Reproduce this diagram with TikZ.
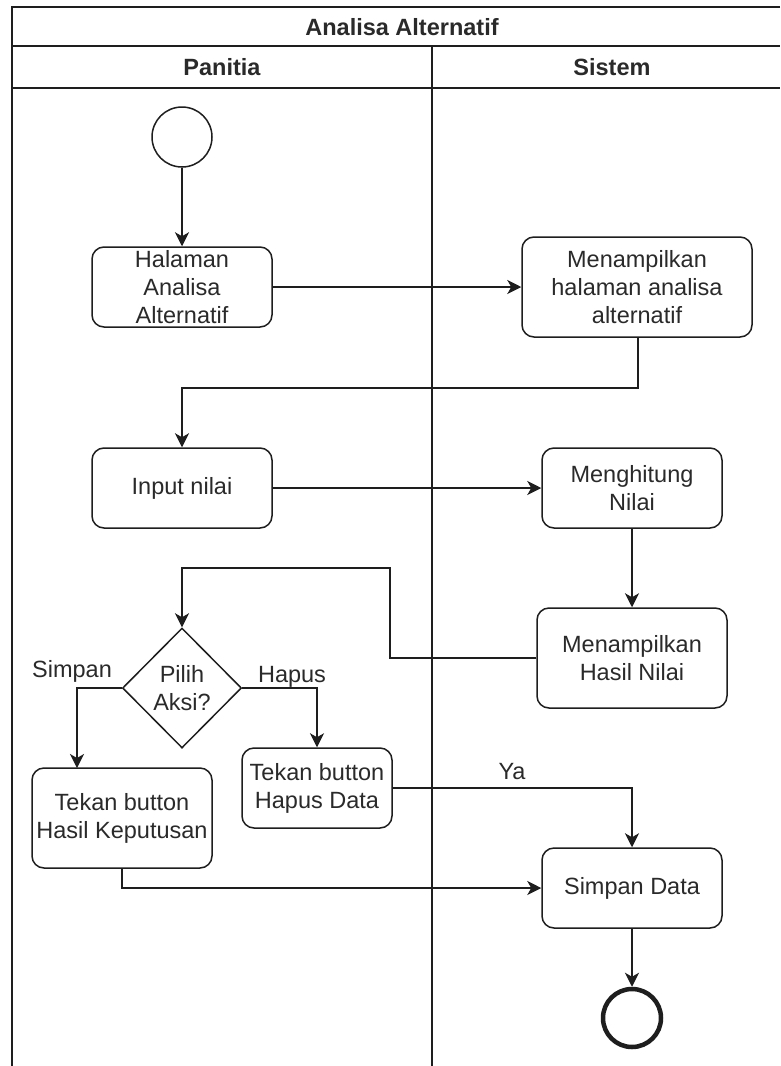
\documentclass[tikz,border=0pt]{standalone}
\usepackage{fontspec}
\setmainfont{Liberation Sans}
\usetikzlibrary{shapes.geometric,arrows.meta}
\definecolor{ink}{HTML}{1E1E1E}
\definecolor{txt}{HTML}{2A2A2A}
\begin{document}
\begin{tikzpicture}[x=1pt,y=-1pt,
  font=\fontsize{23.5}{28}\selectfont, text=txt,
  act/.style={draw=ink, line width=1.5pt, rounded corners=12pt, fill=white,
    align=center, inner sep=0pt},
  flow/.style={draw=ink, line width=1.5pt,
    -{Stealth[length=14pt,width=14pt,inset=4pt]}},
  plain/.style={draw=ink, line width=1.5pt},
  lane/.style={draw=ink, line width=1.8pt},
  lbl/.style={inner sep=0pt}]
\useasboundingbox (0,0) rectangle (780,1066);
\fill[white] (0,0) rectangle (780,1066);

% swimlane frame
\draw[lane] (780,7) -- (12,7) -- (12,1066);
\draw[lane] (12,46) -- (780,46);
\draw[lane] (12,88) -- (780,88);
\draw[lane] (432,46) -- (432,1066);
\node[lbl, font=\fontsize{23.5}{28}\selectfont\bfseries] (title) at (402,27) {Analisa Alternatif};
\node[lbl, font=\fontsize{23.5}{28}\selectfont\bfseries] (lanea) at (222,67) {Panitia};
\node[lbl, font=\fontsize{23.5}{28}\selectfont\bfseries] (laneb) at (612,67) {Sistem};

% activities
\node[draw=ink, line width=1.5pt, circle, minimum size=60pt, inner sep=0pt] (start) at (182,137) {};
\node[act, minimum width=180pt, minimum height=80pt] (halaman) at (182,287) {Halaman\\Analisa\\Alternatif};
\node[act, minimum width=230pt, minimum height=100pt] (tampil) at (637,287) {Menampilkan\\halaman analisa\\alternatif};
\node[act, minimum width=180pt, minimum height=80pt] (input) at (182,488) {Input nilai};
\node[act, minimum width=180pt, minimum height=80pt] (hitung) at (632,488) {Menghitung\\Nilai};
\node[act, minimum width=190pt, minimum height=100pt] (hasil) at (632,658) {Menampilkan\\Hasil Nilai};
\node[draw=ink, line width=1.5pt, diamond, minimum width=119pt, minimum height=120pt,
  inner sep=0pt, align=center, fill=white] (pilih) at (182,688) {Pilih\\Aksi?};
\node[act, minimum width=180pt, minimum height=100pt] (keputusan) at (122,818) {Tekan button\\Hasil Keputusan};
\node[act, minimum width=150pt, minimum height=80pt] (hapus) at (317,788) {Tekan button\\Hapus Data};
\node[act, minimum width=180pt, minimum height=80pt] (simpan) at (632,888) {Simpan Data};
\node[draw=ink, line width=4.5pt, circle, minimum size=58pt, inner sep=0pt] (finish) at (632,1018) {};

% bend points
\coordinate (b1) at (638,388);
\coordinate (b2) at (390,658);
\coordinate (b3) at (390,568);
\coordinate (b4) at (182,568);
\coordinate (kin) at (77,768);

% connectors
\draw[flow] (start) -- (halaman);
\draw[flow] (halaman) -- (tampil);
\draw[flow] (tampil.south -| b1) -- (b1) -| (input.north);
\draw[flow] (input) -- (hitung.west |- input.east);
\draw[flow] (hitung) -- (hasil);
\draw[flow] (hasil.west) -- (b2) -- (b3) -- (b4) -- (pilih.north);
\draw[flow] (pilih.west) -| (kin);
\draw[flow] (pilih.east) -| (hapus.north);
\draw[flow] (hapus.east) -| (simpan.north);
\draw[flow] (keputusan.south) |- (simpan.west);
\draw[flow] (simpan) -- (finish);

% guard labels
\node[lbl] (lsimpan) at (72,671) {Simpan};
\node[lbl] (lhapus) at (292,677) {Hapus};
\node[lbl] (lya) at (512,772) {Ya};
\end{tikzpicture}
\end{document}
